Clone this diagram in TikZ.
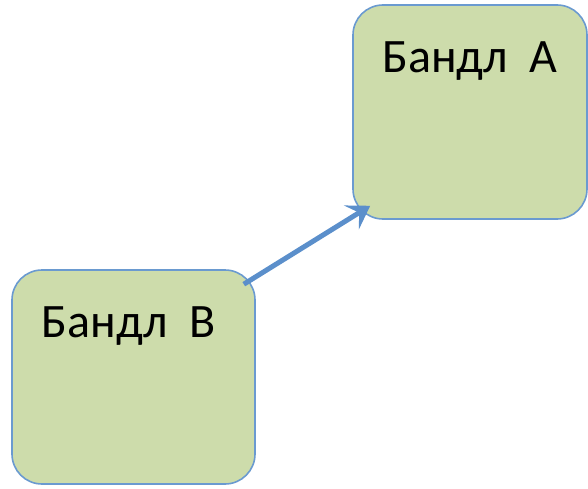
\documentclass[tikz,border=0pt]{standalone}
\usepackage{fontspec}
\setmainfont{Carlito}
\usepackage{tikz}
\usetikzlibrary{arrows.meta}

\definecolor{bundlefill}{HTML}{CDDCAB}
\definecolor{bundleline}{HTML}{6A9AD0}
\definecolor{deparrow}{HTML}{5B8FCB}

\tikzset{
  bundle/.style={draw=bundleline, line width=1.6pt, fill=bundlefill,
    rounded corners=30pt, minimum width=#1, minimum height=214pt},
  bundlename/.style={anchor=base, font=\fontsize{48}{52}\selectfont, inner sep=0pt},
  dep/.style={draw=deparrow, line width=5pt,
    -{Stealth[length=22pt, width=28pt, inset=9pt]}}
}

\begin{document}
\begin{tikzpicture}[x=1pt,y=1pt]
  \useasboundingbox (0,0) rectangle (588,488);

  \node[bundle=234pt] (bundleA) at (470,376) {};
  \node[bundle=243pt] (bundleB) at (133.5,111) {};

  \node[bundlename] (nameA) at ([yshift=-68pt]bundleA.north) {Бандл\ \ A};
  \node[bundlename] (nameB) at ([xshift=-5pt,yshift=-68pt]bundleB.north) {Бандл\ \ B};

  \draw[dep] ([shift={(-12pt,-15pt)}]bundleB.north east) -- ([shift={(18pt,14pt)}]bundleA.south west);
\end{tikzpicture}
\end{document}
